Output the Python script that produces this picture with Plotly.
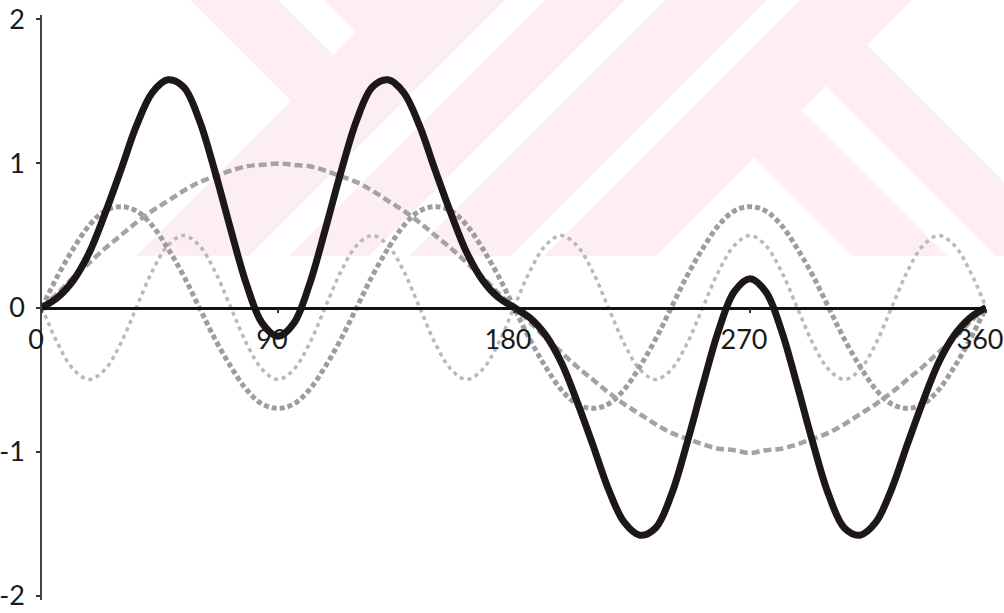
import plotly.graph_objects as go

# Angle grid (degrees) and the sampled curves
angle_deg = list(range(0, 361, 6))

fundamental = [0.00, 0.10, 0.21, 0.31, 0.41, 0.50, 0.59, 0.67, 0.74, 0.81, 0.87, 0.91, 0.95, 0.98, 0.99, 1.00,
               0.99, 0.98, 0.95, 0.91, 0.87, 0.81, 0.74, 0.67, 0.59, 0.50, 0.41, 0.31, 0.21, 0.10, 0.00,
               -0.10, -0.21, -0.31, -0.41, -0.50, -0.59, -0.67, -0.74, -0.81, -0.87, -0.91, -0.95, -0.98, -0.99, -1.01,
               -0.99, -0.98, -0.95, -0.91, -0.87, -0.81, -0.74, -0.67, -0.59, -0.50, -0.41, -0.31, -0.21, -0.10, 0.00]

third = [0.00, 0.22, 0.41, 0.57, 0.67, 0.70, 0.67, 0.57, 0.41, 0.22, 0.00, -0.22, -0.41, -0.57, -0.67, -0.70,
         -0.67, -0.57, -0.41, -0.22, 0.00,
         0.22, 0.41, 0.57, 0.67, 0.70, 0.67, 0.57, 0.41, 0.22, 0.00, -0.22, -0.41, -0.57, -0.67, -0.70,
         -0.67, -0.57, -0.41, -0.22, 0.00,
         0.22, 0.41, 0.57, 0.67, 0.70, 0.67, 0.57, 0.41, 0.22, 0.00, -0.22, -0.41, -0.57, -0.67, -0.70,
         -0.67, -0.57, -0.41, -0.22, 0.00]

fifth = [0.00, -0.25, -0.43, -0.50, -0.43, -0.25, 0.00, 0.25, 0.43, 0.50, 0.43, 0.25,
         0.00, -0.25, -0.43, -0.50, -0.43, -0.25, 0.00, 0.25, 0.43, 0.50, 0.43, 0.25,
         0.00, -0.25, -0.43, -0.50, -0.43, -0.25, 0.00, 0.25, 0.43, 0.50, 0.43, 0.25,
         0.00, -0.25, -0.43, -0.50, -0.43, -0.25, 0.00, 0.25, 0.43, 0.50, 0.43, 0.25,
         0.00, -0.25, -0.43, -0.50, -0.43, -0.25, 0.00, 0.25, 0.43, 0.50, 0.43, 0.25,
         0.00]

resultant = [0.00, 0.07, 0.19, 0.38, 0.65, 0.95, 1.26, 1.49, 1.58, 1.53, 1.30, 0.94, 0.54, 0.16, -0.11, -0.20,
             -0.11, 0.16, 0.54, 0.94, 1.30, 1.53, 1.58, 1.49, 1.26, 0.95, 0.65, 0.38, 0.19, 0.07, 0.00,
             -0.07, -0.19, -0.38, -0.65, -0.95, -1.26, -1.49, -1.58, -1.53, -1.30, -0.94, -0.54, -0.16, 0.11, 0.20,
             0.11, -0.16, -0.54, -0.94, -1.30, -1.53, -1.58, -1.49, -1.26, -0.95, -0.65, -0.38, -0.19, -0.07, 0.00]

x_tick_vals = [0, 90, 180, 270, 360]
x_tick_text = ["0", "90", "180", "270", "360"]
y_tick_vals = [-2, -1, 0, 1, 2]
y_tick_text = ["-2", "-1", "0", "1", "2"]

W, H = 1004, 613
ML, MR, MT, MB = 42, 18, 15, 13
PW, PH = W - ML - MR, H - MT - MB
FONT = "Lato, 'Open Sans', sans-serif"
TICK_SIZE = 27


def to_paper(px, py):
    return (px - ML) / PW, (H - MB - py) / PH


def poly(points, color):
    parts = []
    for i, (px, py) in enumerate(points):
        u, v = to_paper(px, py)
        parts.append(("M" if i == 0 else "L") + f"{u:.5f},{v:.5f}")
    return dict(type="path", xref="paper", yref="paper", layer="below",
                path=" ".join(parts) + " Z", fillcolor=color, line=dict(width=0))


PINK = "#fdeef1"
WHITE = "#ffffff"

# Pale striped backdrop in the upper band
backdrop = [
    poly([(0, 0), (1010, 0), (1010, 256), (0, 256)], PINK),
    poly([(0, 0), (190, 0), (291, 101), (136, 256), (0, 256)], WHITE),
    poly([(278, 0), (324, 0), (356, 32), (333, 55)], WHITE),
    poly([(505, 0), (545, 0), (289, 256), (249, 256)], WHITE),
    poly([(625, 0), (665, 0), (409, 256), (369, 256)], WHITE),
    poly([(767, 0), (800, 0), (544, 256), (511, 256)], WHITE),
    poly([(754.5, 157.5), (853, 256), (656, 256)], WHITE),
    poly([(801.5, 110.5), (826, 86), (996, 256), (947, 256)], WHITE),
    poly([(912, 0), (1010, 0), (1010, 188), (867, 45)], WHITE),
]

fig = go.Figure()

fig.add_trace(go.Scatter(x=angle_deg, y=fifth, mode="lines", line_shape="spline",
                         line=dict(color="#b9b9b9", width=3.5, dash="4px,4px")))
fig.add_trace(go.Scatter(x=angle_deg, y=third, mode="lines", line_shape="spline",
                         line=dict(color="#9d9d9d", width=5, dash="5px,3px")))
fig.add_trace(go.Scatter(x=angle_deg, y=fundamental, mode="lines", line_shape="spline",
                         line=dict(color="#a3a3a3", width=4.5, dash="8px,4px")))
fig.add_trace(go.Scatter(x=angle_deg, y=resultant, mode="lines", line_shape="spline",
                         line=dict(color="#1d1718", width=7)))

fig.update_layout(
    width=W, height=H,
    margin=dict(l=ML, r=MR, t=MT, b=MB, autoexpand=False),
    paper_bgcolor="white", plot_bgcolor="rgba(0,0,0,0)",
    showlegend=False,
    shapes=backdrop,
    font=dict(family=FONT, size=TICK_SIZE, color="#1a1a1a"),
    xaxis=dict(range=[0, 360], anchor="free", position=0.5, automargin=False,
               showline=True, linecolor="#111111", linewidth=2.5,
               showgrid=False, zeroline=False,
               tickmode="array", tickvals=x_tick_vals, ticktext=x_tick_text,
               ticks="outside", ticklen=4, tickwidth=1.5, tickcolor="#333333",
               ticklabelshift=-6, ticklabelstandoff=3, ticklabeloverflow="allow",
               tickfont=dict(family=FONT, size=TICK_SIZE, color="#1a1a1a")),
    yaxis=dict(range=[-2.03, 2.03], automargin=False,
               showline=True, linecolor="#444444", linewidth=1.5,
               showgrid=False, zeroline=False,
               tickmode="array", tickvals=y_tick_vals, ticktext=y_tick_text,
               ticks="outside", ticklen=4, tickwidth=1.5, tickcolor="#333333",
               ticklabelstandoff=6, ticklabeloverflow="allow",
               tickfont=dict(family=FONT, size=TICK_SIZE, color="#1a1a1a")),
)

fig.write_html("out.html")
